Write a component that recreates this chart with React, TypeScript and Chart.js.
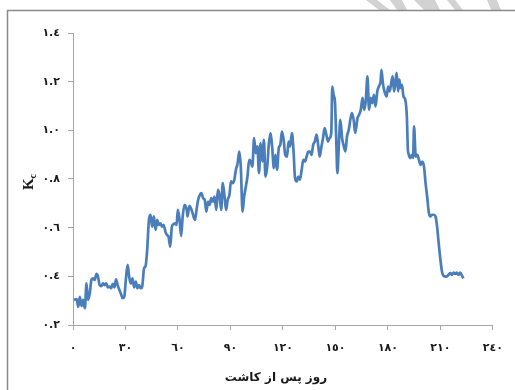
import React, { useEffect, useRef } from "react";
import { Chart, registerables } from "chart.js";

Chart.register(...registerables);

// Days after planting
const days = [
  0.6, 2.1, 3.0, 3.9, 4.9, 5.8, 6.8, 7.7, 8.6, 9.6, 10.5, 11.4, 12.4, 13.4, 14.3, 15.2, 16.2, 17.1, 18.0, 19.0,
  19.9, 20.8, 21.8, 22.7, 23.7, 24.6, 25.5, 26.5, 27.4, 28.3, 29.3, 30.2, 31.2, 32.1, 33.0, 34.0, 34.9, 35.9, 36.8, 37.7,
  38.7, 39.6, 40.6, 41.5, 42.4, 43.4, 44.3, 45.2, 46.2, 47.2, 48.1, 49.0, 50.0, 50.9, 51.8, 52.8, 53.7, 54.6, 55.6, 56.5,
  57.5, 58.4, 59.2, 59.9, 60.8, 61.8, 62.7, 63.7, 65.0, 65.5, 66.5, 67.8, 69.7, 70.6, 71.5, 72.5, 73.4, 74.4, 75.3, 76.2,
  77.2, 78.1, 79.0, 80.0, 80.9, 81.9, 82.8, 83.7, 84.7, 85.6, 86.6, 87.5, 88.4, 89.4, 90.3, 91.3, 92.2, 93.1, 94.1, 95.0,
  95.9, 96.9, 97.8, 98.8, 99.7, 100.7, 101.6, 102.5, 103.5, 104.4, 105.4, 106.3, 107.2, 108.2, 109.1, 110.0, 111.0, 111.9, 112.9, 113.8,
  114.8, 115.7, 116.6, 117.6, 118.5, 119.4, 120.4, 121.3, 122.3, 123.2, 124.1, 125.1, 126.0, 126.9, 127.9, 128.8, 129.7, 130.7, 131.6, 132.6,
  133.5, 134.5, 135.4, 136.3, 137.3, 138.2, 139.2, 140.1, 141.0, 142.0, 142.9, 143.8, 144.8, 145.7, 146.6, 147.6, 148.2, 148.9, 149.7, 150.4,
  151.1, 151.9, 152.8, 153.8, 154.8, 155.7, 156.6, 157.6, 158.5, 159.4, 160.4, 161.3, 162.6, 163.5, 164.5, 165.5, 166.4, 167.3, 168.3, 169.2,
  170.1, 171.1, 172.0, 172.9, 173.9, 174.8, 175.8, 176.3, 177.1, 178.0, 179.2, 180.1, 181.0, 182.0, 182.7, 183.5, 184.2, 185.0, 185.8, 186.5,
  187.2, 188.0, 188.9, 189.9, 190.8, 191.4, 191.7, 192.7, 193.6, 194.4, 194.9, 195.9, 196.8, 197.7, 198.7, 199.6, 200.6, 201.5, 202.4, 203.4,
  204.3, 205.2, 206.2, 207.2, 208.1, 209.0, 210.0, 210.9, 211.8, 213.3, 214.6, 215.6, 216.5, 217.5, 218.4, 219.3, 220.3, 221.2, 222.1, 223.1,
];

// Crop coefficient Kc
const kc = [
  0.303, 0.306, 0.275, 0.316, 0.278, 0.303, 0.269, 0.371, 0.303, 0.33, 0.385, 0.392, 0.385, 0.41, 0.399, 0.364, 0.36, 0.371, 0.364, 0.371,
  0.355, 0.358, 0.351, 0.369, 0.355, 0.388, 0.364, 0.344, 0.328, 0.31, 0.316, 0.385, 0.447, 0.399, 0.371, 0.392, 0.355, 0.378, 0.351, 0.364,
  0.351, 0.36, 0.433, 0.443, 0.509, 0.632, 0.653, 0.604, 0.646, 0.591, 0.632, 0.611, 0.618, 0.604, 0.611, 0.584, 0.57, 0.563, 0.522, 0.604,
  0.615, 0.618, 0.611, 0.673, 0.64, 0.566, 0.646, 0.694, 0.673, 0.646, 0.69, 0.673, 0.632, 0.673, 0.714, 0.735, 0.742, 0.721, 0.714, 0.666,
  0.707, 0.694, 0.721, 0.707, 0.728, 0.673, 0.755, 0.735, 0.673, 0.783, 0.728, 0.673, 0.714, 0.735, 0.79, 0.783, 0.797, 0.838, 0.865, 0.913,
  0.851, 0.666, 0.728, 0.769, 0.81, 0.879, 0.872, 0.851, 0.968, 0.906, 0.934, 0.824, 0.948, 0.872, 0.961, 0.81, 0.851, 0.941, 0.989, 0.934,
  0.845, 0.899, 0.838, 0.927, 0.941, 0.995, 0.961, 0.899, 0.892, 0.954, 0.934, 0.989, 0.92, 0.804, 0.79, 0.81, 0.797, 0.838, 0.879, 0.872,
  0.892, 0.913, 0.913, 0.899, 0.941, 0.954, 0.982, 0.941, 0.892, 0.934, 0.968, 1.009, 0.982, 0.954, 0.968, 0.989, 1.18, 1.146, 1.119, 0.975,
  0.824, 0.934, 1.043, 0.968, 0.934, 0.913, 0.975, 1.002, 1.043, 1.071, 1.043, 0.989, 1.05, 1.064, 1.085, 1.133, 1.085, 1.119, 1.222, 1.085,
  1.133, 1.112, 1.146, 1.098, 1.16, 1.18, 1.201, 1.249, 1.194, 1.16, 1.139, 1.18, 1.16, 1.201, 1.222, 1.16, 1.194, 1.236, 1.16, 1.208,
  1.174, 1.187, 1.139, 1.126, 1.057, 0.92, 0.906, 0.886, 0.899, 0.887, 1.016, 0.892, 0.899, 0.879, 0.858, 0.872, 0.851, 0.783, 0.728, 0.66,
  0.646, 0.653, 0.653, 0.646, 0.604, 0.536, 0.467, 0.419, 0.402, 0.399, 0.406, 0.413, 0.406, 0.415, 0.41, 0.415, 0.406, 0.415, 0.406, 0.392,
];

const xTicks = [0, 30, 60, 90, 120, 150, 180, 210, 240];
const xTickLabels = ["٠", "٣٠", "٦٠", "٩٠", "١٢٠", "١٥٠", "١٨٠", "٢١٠", "٢٤٠"];
const yTicks = [0.2, 0.4, 0.6, 0.8, 1.0, 1.2, 1.4];
const yTickLabels = ["٠.٢", "٠.٤", "٠.٦", "٠.٨", "١.٠", "١.٢", "١.٤"];

const xTitle = "روز پس از کاشت";
const yTitleMain = "K";
const yTitleSub = "c";

const LINE_BLUE = "#4a7ebb";
const AXIS_GREY = "#a6a6a6";
const TEXT_COLOR = "#1a1a1a";

// Page frame, faint logo stripes along the top edge and the axis titles
const decorPlugin = {
  id: "decor",
  beforeDraw(chart: any) {
    const ctx = chart.ctx as CanvasRenderingContext2D;
    ctx.save();
    ctx.fillStyle = "#d2d2d2";
    const stripes = [
      [366, 377, 390, 379],
      [390, 402, 407, 397],
      [414, 435, 440, 424],
      [447, 455, 463, 455],
      [487, 497, 501, 491],
    ];
    for (const [a, b, c, d] of stripes) {
      ctx.beginPath();
      ctx.moveTo(a, 0);
      ctx.lineTo(b, 0);
      ctx.lineTo(c, 10);
      ctx.lineTo(d, 10);
      ctx.closePath();
      ctx.fill();
    }
    ctx.restore();
  },
  afterDraw(chart: any) {
    const ctx = chart.ctx as CanvasRenderingContext2D;
    ctx.save();
    ctx.strokeStyle = "#8a8a8a";
    ctx.lineWidth = 1.5;
    ctx.beginPath();
    ctx.moveTo(7.5, 390);
    ctx.lineTo(7.5, 10.5);
    ctx.lineTo(515, 10.5);
    ctx.stroke();

    // horizontal axis title
    ctx.fillStyle = TEXT_COLOR;
    ctx.textAlign = "center";
    ctx.textBaseline = "middle";
    ctx.font = "bold 12px 'DejaVu Sans'";
    ctx.fillText(xTitle, 276, 378);

    // rotated vertical axis title with subscript
    ctx.translate(29, 182);
    ctx.rotate(-Math.PI / 2);
    ctx.textBaseline = "middle";
    ctx.textAlign = "left";
    ctx.font = "bold 10px 'Liberation Serif'";
    const sw = ctx.measureText(yTitleSub).width;
    ctx.font = "bold 15px 'Liberation Serif'";
    const kw = ctx.measureText(yTitleMain).width;
    const start = -(kw + sw) / 2;
    ctx.fillText(yTitleMain, start, 0);
    ctx.font = "bold 10px 'Liberation Serif'";
    ctx.fillText(yTitleSub, start + kw, 4);
    ctx.restore();
  },
};

export default function App() {
  const canvasRef = useRef<HTMLCanvasElement | null>(null);

  useEffect(() => {
    const canvas = canvasRef.current;
    if (!canvas) return;
    const points = days.map((d, i) => ({ x: d, y: kc[i] }));

    const chart = new Chart(canvas, {
      type: "line",
      data: {
        datasets: [
          {
            data: points,
            borderColor: LINE_BLUE,
            borderWidth: 2.7,
            pointRadius: 0,
            tension: 0.2,
            cubicInterpolationMode: "monotone",
            fill: false,
          },
        ],
      },
      options: {
        animation: false,
        responsive: false,
        maintainAspectRatio: false,
        devicePixelRatio: 1,
        layout: { padding: { top: 33, right: 16, left: 0, bottom: 0 } },
        plugins: {
          legend: { display: false },
          tooltip: { enabled: false },
          title: { display: false },
        },
        scales: {
          x: {
            type: "linear",
            min: 0,
            max: 240,
            afterBuildTicks: (scale: any) => {
              scale.ticks = xTicks.map((v) => ({ value: v }));
            },
            afterFit: (scale: any) => {
              scale.height = 65;
            },
            ticks: {
              autoSkip: false,
              maxRotation: 0,
              padding: 12,
              color: TEXT_COLOR,
              font: { family: "'DejaVu Sans'", size: 11, weight: "bold" },
              callback: (_v: any, i: number) => xTickLabels[i],
            },
            grid: { drawOnChartArea: false, tickLength: 5, color: AXIS_GREY },
            border: { color: AXIS_GREY, width: 1 },
          },
          y: {
            type: "linear",
            min: 0.2,
            max: 1.4,
            afterBuildTicks: (scale: any) => {
              scale.ticks = yTicks.map((v) => ({ value: v }));
            },
            afterFit: (scale: any) => {
              scale.width = 73;
            },
            ticks: {
              autoSkip: false,
              padding: 8,
              color: TEXT_COLOR,
              font: { family: "'DejaVu Sans'", size: 11, weight: "bold" },
              callback: (_v: any, i: number) => yTickLabels[i],
            },
            grid: { drawOnChartArea: false, tickLength: 5, color: AXIS_GREY },
            border: { color: AXIS_GREY, width: 1 },
          },
        },
      },
      plugins: [decorPlugin],
    });

    return () => chart.destroy();
  }, []);

  return (
    <div style={{ position: "fixed", left: 0, top: 0, width: 515, height: 390, background: "#fff" }}>
      <canvas ref={canvasRef} width={515} height={390} style={{ display: "block", width: 515, height: 390 }} />
    </div>
  );
}
